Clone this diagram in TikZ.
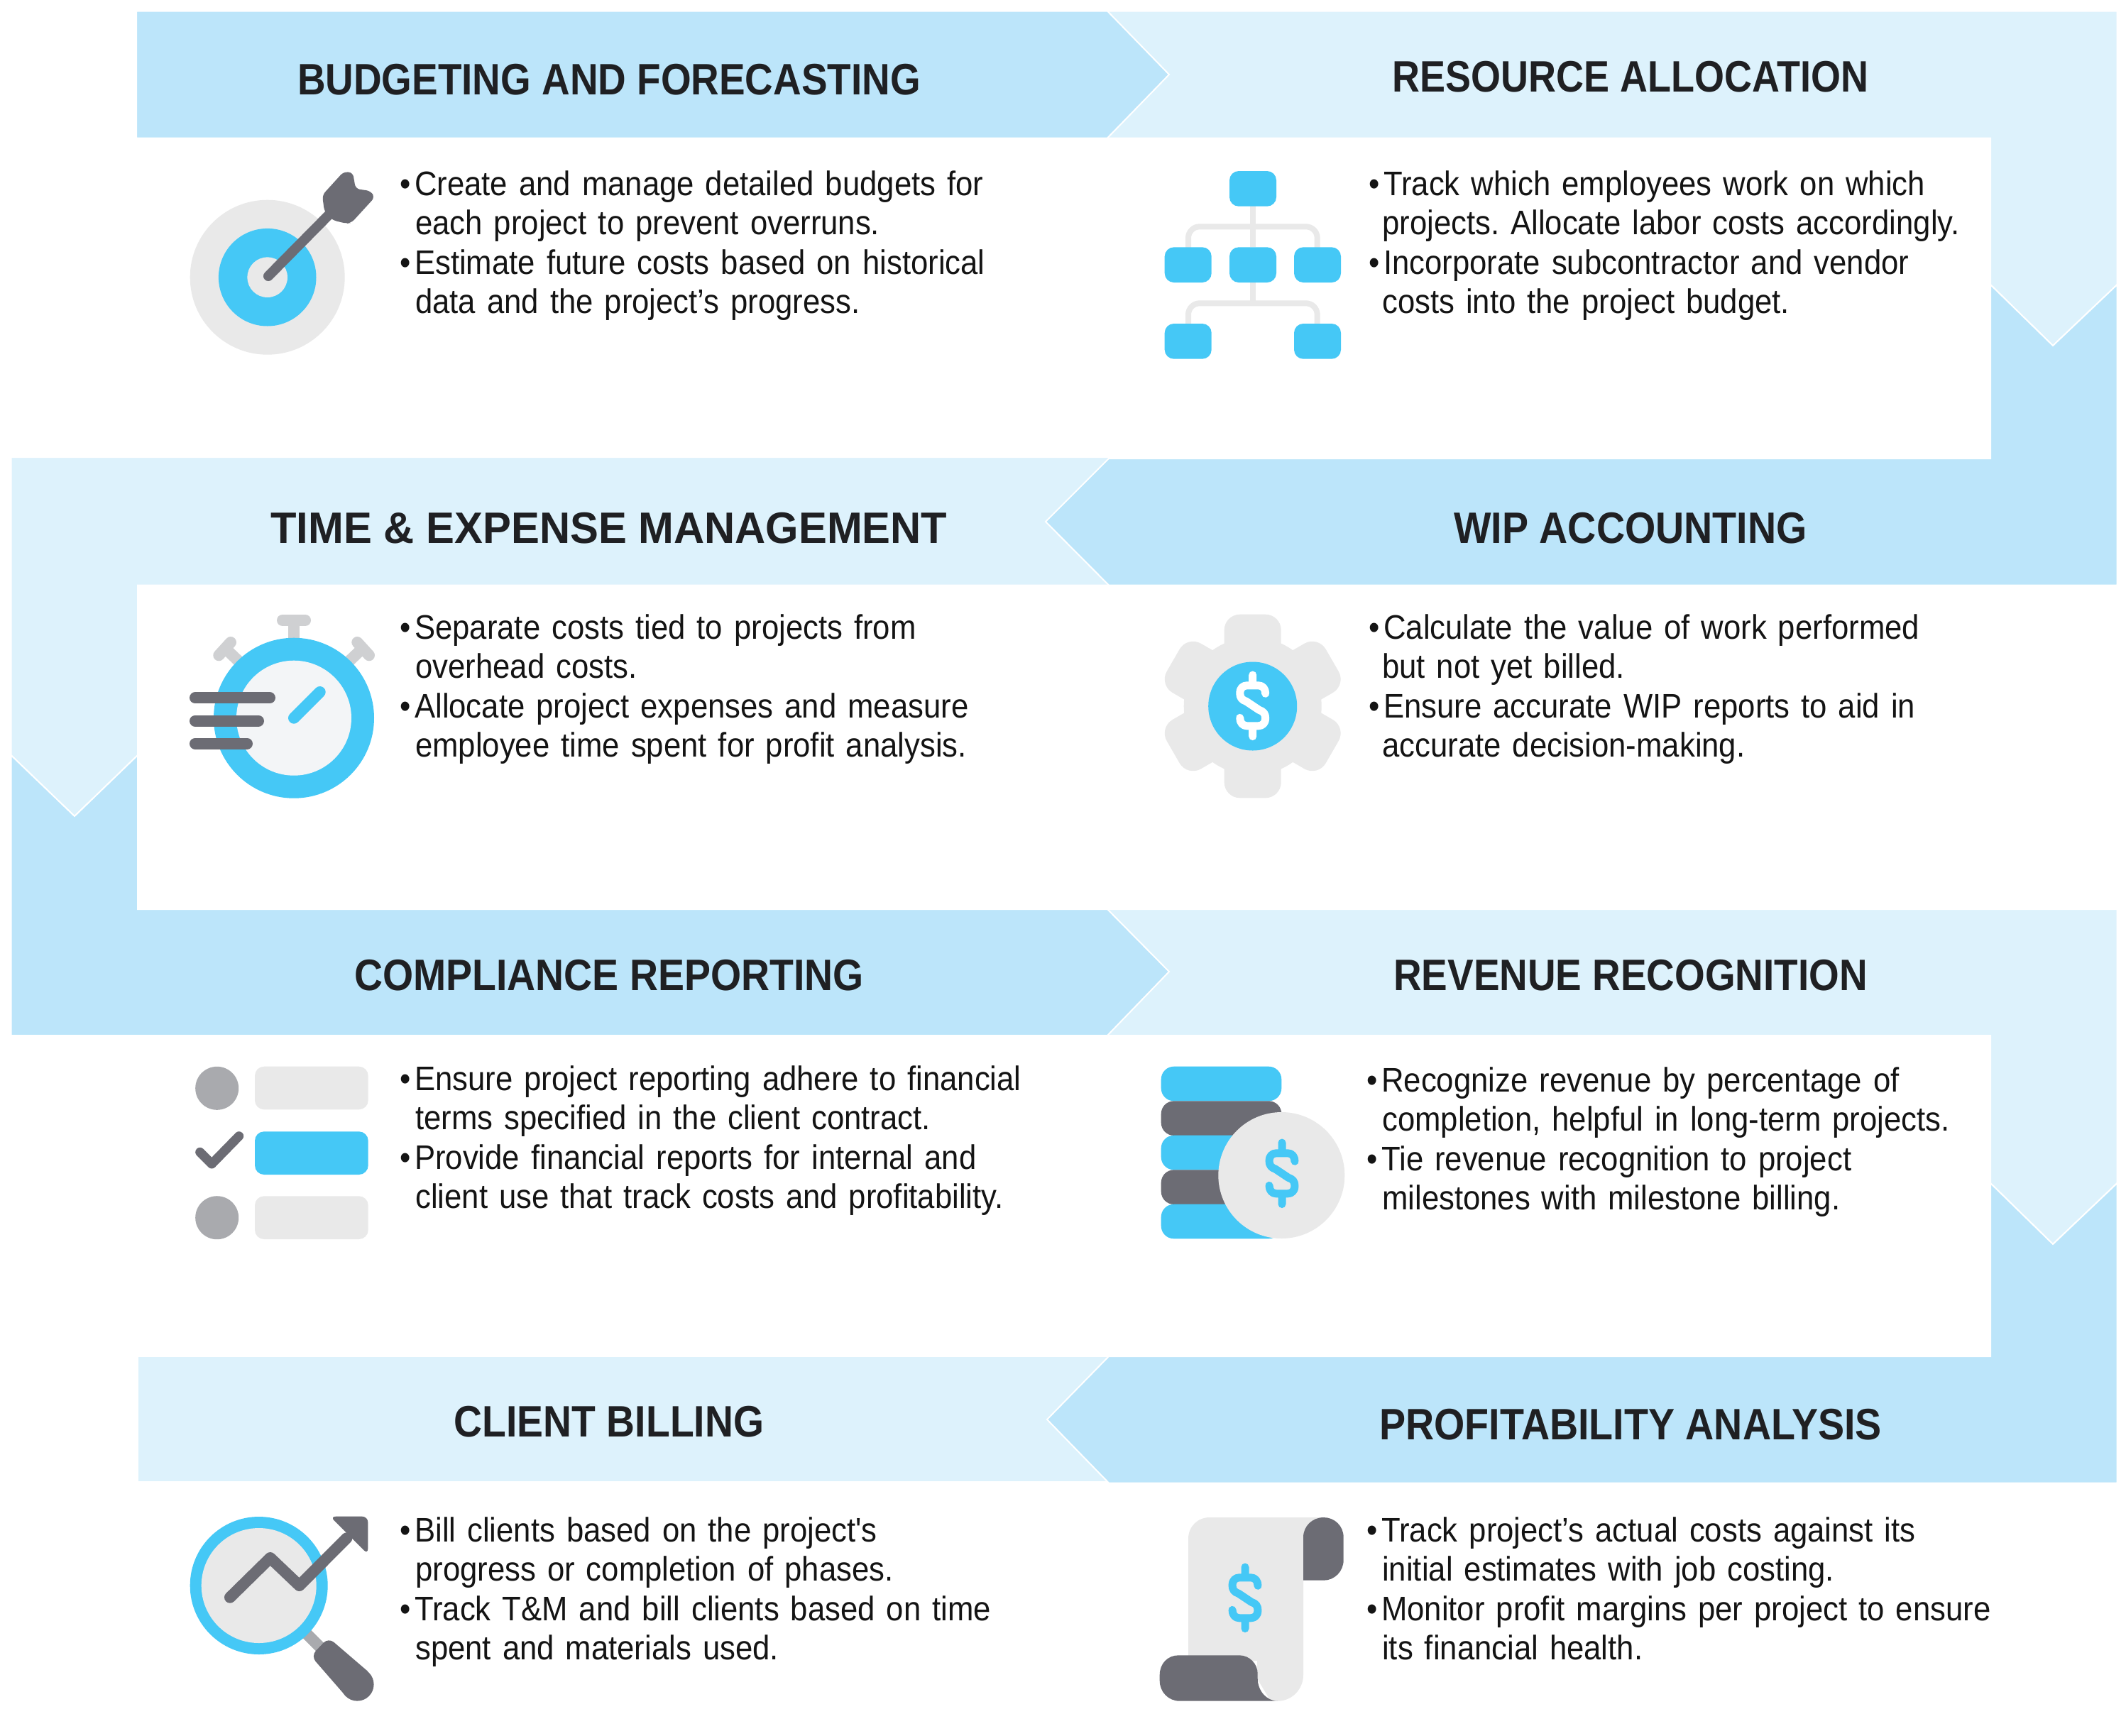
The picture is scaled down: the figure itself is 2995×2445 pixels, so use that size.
\documentclass[tikz,border=0pt]{standalone}
\usepackage{graphicx}
\usepackage{fontspec}
\setmainfont{Liberation Sans}
\newfontfamily\titlefam{Liberation Sans Bold}
\newfontfamily\bodyfam[FakeStretch=0.91,WordSpace=0.92]{Liberation Sans}
\definecolor{bandlight}{HTML}{DDF2FC}
\definecolor{banddark}{HTML}{BCE5FA}
\definecolor{iconblue}{HTML}{45C8F6}
\definecolor{icongray}{HTML}{E9E9E9}
\definecolor{icondark}{HTML}{6C6C74}
\definecolor{iconmid}{HTML}{A9AAAE}
\definecolor{iconpale}{HTML}{CFD0D2}
\definecolor{iconface}{HTML}{F3F5F7}
\definecolor{ink}{HTML}{1F2023}
\tikzset{
  light/.style={fill=bandlight,draw=white,line width=2pt,line join=miter},
  dark/.style={fill=banddark,draw=white,line width=2pt,line join=miter},
  bandtitle/.style={anchor=base,inner sep=0pt,text=ink,font=\titlefam\fontsize{62}{62}\selectfont},
  bodytext/.style={anchor=base west,inner sep=0pt,text=black!92,text width=1000pt,align=left,font=\bodyfam\fontsize{48}{55.5}\selectfont\frenchspacing},
  dollarline/.style={line width=11pt,line cap=round,line join=round},
}
\newcommand{\bl}{\makebox[21pt][l]{•}}
\newcommand{\hg}{\hspace*{22pt}}
\newcommand{\xs}{\hspace*{3pt}}
\newcommand{\dollarsign}[3]{%
  \draw[dollarline,draw=#3,shift={(#1,#2)}] (0,-43.3) -- (0,-28.5) (0,28.5) -- (0,43.3)
   (18,-17) .. controls (18,-24) and (14,-28.5) .. (8,-28.5) -- (-8,-28.5)
   .. controls (-14,-28.5) and (-18,-24) .. (-18,-18)
   .. controls (-18,-11) and (-15,-8) .. (-9,-6) -- (9,6)
   .. controls (15,8) and (18,11) .. (18,18)
   .. controls (18,24) and (14,28.5) .. (8,28.5) -- (-8,28.5)
   .. controls (-14,28.5) and (-18,24) .. (-18,17);}
\begin{document}
\begin{tikzpicture}[x=1pt,y=-1pt]
\useasboundingbox (0,0) rectangle (2995,2445);
\fill[white] (0,0) rectangle (2995,2445);
% bands
\path[light] (15.5,644) -- (1562,644) -- (1562,824.5) -- (194,824.5) -- (194,1064) -- (105,1150) -- (15.5,1064) -- cycle;
\path[light] (1560,15.5) -- (2982.5,15.5) -- (2982.5,401) -- (2892,487) -- (2804,401) -- (2804,194.5) -- (1560,194.5) -- cycle;
\path[dark] (192,15.5) -- (1560,15.5) -- (1647,105) -- (1560,194.5) -- (192,194.5) -- cycle;
\path[dark] (2804,401) -- (2892,487) -- (2982.5,401) -- (2982.5,824.5) -- (1562,824.5) -- (1473,735) -- (1562,646) -- (2804,646) -- cycle;
\path[light] (1560,1281) -- (2982.5,1281) -- (2982.5,1667) -- (2892,1753) -- (2804,1667) -- (2804,1459) -- (1560,1459) -- cycle;
\path[dark] (15.5,1064) -- (105,1150) -- (194,1064) -- (194,1281) -- (1560,1281) -- (1647,1369) -- (1560,1459) -- (15.5,1459) -- cycle;
\path[light] (194,1911) -- (1562,1911) -- (1562,2087.5) -- (194,2087.5) -- cycle;
\path[dark] (2804,1667) -- (2892,1753) -- (2982.5,1667) -- (2982.5,2089.5) -- (1562,2089.5) -- (1475,2000) -- (1562,1911) -- (2804,1911) -- cycle;
% titles
\node[bandtitle] (t1) at (858,133) {\scalebox{0.885}[1]{BUDGETING AND FORECASTING}};
\node[bandtitle] (t2) at (2297,129) {\scalebox{0.870}[1]{RESOURCE ALLOCATION}};
\node[bandtitle] (t3) at (858,765) {\scalebox{0.964}[1]{TIME \& EXPENSE MANAGEMENT}};
\node[bandtitle] (t4) at (2297,765) {\scalebox{0.897}[1]{WIP ACCOUNTING}};
\node[bandtitle] (t5) at (858,1395) {\scalebox{0.894}[1]{COMPLIANCE REPORTING}};
\node[bandtitle] (t6) at (2297,1395) {\scalebox{0.885}[1]{REVENUE RECOGNITION}};
\node[bandtitle] (t7) at (858,2024) {\scalebox{0.892}[1]{CLIENT BILLING}};
\node[bandtitle] (t8) at (2297,2028) {\scalebox{0.897}[1]{PROFITABILITY ANALYSIS}};
% body
\node[bodytext] (b1) at (563,275) {\bl Create and manage detailed budgets for\\\hg each project to prevent overruns.\\\bl Estimate future costs based on historical\\\hg data and the project’s progress.};
\node[bodytext] (b2) at (1925,275) {\xs\bl Track which employees work on which\\\hg projects. Allocate labor costs accordingly.\\\xs\bl Incorporate subcontractor and vendor\\\hg costs into the project budget.};
\node[bodytext] (b3) at (563,900) {\bl Separate costs tied to projects from\\\hg overhead costs.\\\bl Allocate project expenses and measure\\\hg employee time spent for profit analysis.};
\node[bodytext] (b4) at (1925,900) {\xs\bl Calculate the value of work performed\\\hg but not yet billed.\\\xs\bl Ensure accurate WIP reports to aid in\\\hg accurate decision-making.};
\node[bodytext] (b5) at (563,1536) {\bl Ensure project reporting adhere to financial\\\hg terms specified in the client contract.\\\bl Provide financial reports for internal and\\\hg client use that track costs and profitability.};
\node[bodytext] (b6) at (1925,1538) {\bl Recognize revenue by percentage of\\\hg completion, helpful in long-term projects.\\\bl Tie revenue recognition to project\\\hg milestones with milestone billing.};
\node[bodytext] (b7) at (563,2172) {\bl Bill clients based on the project's\\\hg progress or completion of phases.\\\bl Track T\&M and bill clients based on time\\\hg spent and materials used.};
\node[bodytext] (b8) at (1925,2172) {\bl Track project’s actual costs against its\\\hg initial estimates with job costing.\\\bl Monitor profit margins per project to ensure\\\hg its financial health.};
% target icon
\fill[icongray] (376.7,390.7) circle[radius=109pt];
\fill[iconblue] (376.7,390.7) circle[radius=68.8pt];
\fill[icongray] (376.7,390.7) circle[radius=28.3pt];
\draw[icondark,line width=14pt,line cap=round] (378,389) -- (463,303);
\fill[icondark,rounded corners=6pt] (454,275) -- (484,242) -- (497,243) -- (501,266) -- (522,269) -- (528,278) -- (495,314) -- (488,315) -- (468,310) -- (457,298) -- cycle;
% org chart
\begin{scope}
\draw[icongray,line width=8pt] (1765,290) -- (1765,348);
\draw[icongray,line width=8pt,rounded corners=16pt] (1674,350) -- (1674,319.3) -- (1855.7,319.3) -- (1855.7,350);
\draw[icongray,line width=8pt] (1765,398) -- (1765,427.3);
\draw[icongray,line width=8pt,rounded corners=16pt] (1674,458) -- (1674,427.3) -- (1855.7,427.3) -- (1855.7,458);
\foreach \xa/\ya in {1732/241,1640.7/348.3,1732/348.3,1823/348.3,1640.7/456,1823/456}
  \fill[iconblue,rounded corners=13pt] (\xa,\ya) rectangle ++(66,49.7);
\end{scope}
% stopwatch
\fill[iconpale] (406,870) rectangle (422,920);
\draw[iconpale,line width=16pt,line cap=round] (398,874) -- (430,874);
\draw[iconpale,line width=16pt,line cap=round] (308.3,923.3) -- (325,905);
\draw[iconpale,line width=16pt,line cap=round] (520,923.3) -- (503.3,905);
\draw[iconpale,line width=16pt] (322,918) -- (345,940);
\draw[iconpale,line width=16pt] (506,918) -- (483,940);
\fill[iconblue] (414,1011.7) circle[radius=113pt];
\fill[iconface] (414,1011.7) circle[radius=81pt];
\draw[iconblue,line width=16pt,line cap=round] (414,1011.7) -- (450.7,975);
\draw[icondark,line width=16pt,line cap=round] (275,983.3) -- (380,983.3);
\draw[icondark,line width=16pt,line cap=round] (275,1015.7) -- (364,1015.7);
\draw[icondark,line width=16pt,line cap=round] (275,1047.7) -- (348,1047.7);
% gear
\begin{scope}[shift={(1764.7,995)}]
\fill[icongray] (0,0) circle[radius=97pt];
\foreach \a in {0,60,120}
  \fill[icongray,rounded corners=22pt,rotate=\a] (-40,-129.3) rectangle (40,129.3);
\fill[iconblue] (0,0) circle[radius=62.5pt];
\end{scope}
\dollarsign{1764.7}{994.3}{white}
% checklist
\fill[iconmid] (305.7,1533.3) circle[radius=30.5pt];
\fill[iconmid] (305.7,1715.7) circle[radius=30.5pt];
\fill[icongray,rounded corners=13pt] (359,1502.7) rectangle (518.7,1563.3);
\fill[iconblue,rounded corners=13pt] (359,1594.3) rectangle (518.7,1655);
\fill[icongray,rounded corners=13pt] (359,1685.3) rectangle (518.7,1746);
\draw[icondark,line width=13pt,line cap=round,line join=round] (281.7,1623.3) -- (298.3,1640) -- (336.7,1600.7);
% coins
\foreach \ya/\cc in {1502.7/iconblue,1551.3/icondark,1599.7/iconblue,1648.3/icondark,1696.7/iconblue}
  \fill[\cc,rounded corners=18pt] (1635.7,\ya) rectangle (1805.3,\ya+48.6);
\fill[icongray] (1805.3,1656) circle[radius=89pt];
\dollarsign{1806}{1653.3}{iconblue}
% magnifier
\draw[iconmid,line width=16pt] (430,2300) -- (455,2325);
\fill[icondark] (503.3,2373.3) circle[radius=23.3pt];
\fill[icondark] (518.3,2355) [rounded corners=0pt] -- (486.7,2389.3) -- (462.35,2361.3) [rounded corners=10pt] -- (438,2333.3) -- (462.7,2307.3) [rounded corners=0pt] -- cycle;
\fill[iconblue] (364.7,2234) circle[radius=97pt];
\fill[icongray] (364.7,2234) circle[radius=81pt];
\draw[icondark,line width=16pt,line cap=round,line join=round] (324,2250.7) -- (380.7,2195) -- (421.7,2234) -- (488.3,2167.3);
\fill[icondark,rounded corners=8pt] (465,2136.7) -- (518.3,2136.7) -- (518.3,2190) -- cycle;
% scroll
\fill[icongray] (1674,2340) -- (1674,2168) .. controls (1674,2151) and (1687,2138) .. (1704,2138) -- (1865,2138) -- (1836,2166) -- (1836,2360) .. controls (1836,2380) and (1820,2396.7) .. (1800,2396.7) -- (1790,2396.7) -- (1771,2365) -- (1771,2340) -- cycle;
\fill[icondark] (1836,2226.7) -- (1836,2166) .. controls (1836,2150) and (1849,2138) .. (1864.7,2138) .. controls (1880,2138) and (1892.7,2150) .. (1892.7,2166) -- (1892.7,2198) .. controls (1892.7,2214) and (1880,2226.7) .. (1864.7,2226.7) -- cycle;
\fill[icondark] (1660,2332.3) -- (1746,2332.3) .. controls (1760,2332.3) and (1771.7,2344) .. (1771.7,2358) -- (1771.7,2365) .. controls (1771.7,2382) and (1784,2396.7) .. (1800,2396.7) -- (1662,2396.7) .. controls (1646,2396.7) and (1633.7,2384) .. (1633.7,2368) -- (1633.7,2360) .. controls (1633.7,2344) and (1645,2332.3) .. (1660,2332.3) -- cycle;
\dollarsign{1754}{2251.3}{iconblue}
\end{tikzpicture}
\end{document}
